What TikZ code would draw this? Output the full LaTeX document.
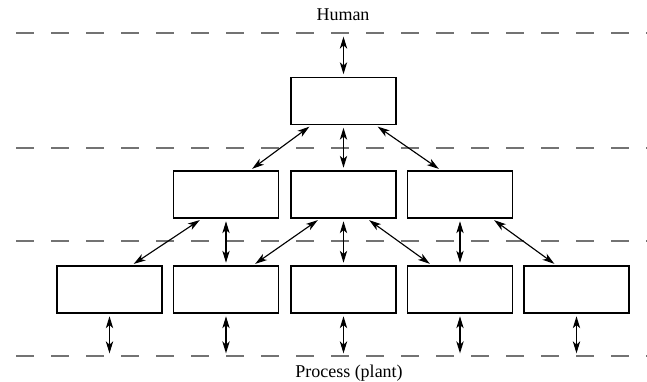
\documentclass[tikz,border=0pt]{standalone}
\usepackage{fontspec}
\setmainfont{Liberation Serif}
\usetikzlibrary{arrows.meta}

\tikzset{
  box/.style={draw, line width=0.9pt, minimum width=78.75pt, minimum height=35.25pt, inner sep=0pt},
  link/.style={line width=0.85pt, {Stealth[length=9pt,width=5.5pt,inset=2.5pt]}-{Stealth[length=9pt,width=5.5pt,inset=2.5pt]}, shorten <=2pt, shorten >=2pt},
  level/.style={draw=black!55, line width=0.8pt, dash pattern=on 13.5pt off 12.75pt},
  tag/.style={font=\fontsize{13.5}{16}\selectfont, inner sep=0pt}
}

\begin{document}
\begin{tikzpicture}[x=0.75pt, y=-0.75pt]
  \useasboundingbox (0,0) rectangle (647,382);

  \draw[level] (16,33) -- (647,33);
  \draw[level] (16,148) -- (647,148);
  \draw[level] (16,241) -- (647,241);
  \draw[level] (16,356) -- (647,356);

  \node[tag] (human) at (343,15) {Human};
  \node[tag] (plant) at (349,373) {Process (plant)};

  \node[box] (top) at (343.5,101) {};

  \node[box] (m1) at (226,194.5) {};
  \node[box] (m2) at (343.5,194.5) {};
  \node[box] (m3) at (460,194.5) {};

  \node[box] (l1) at (109.5,289.5) {};
  \node[box] (l2) at (226,289.5) {};
  \node[box] (l3) at (343.5,289.5) {};
  \node[box] (l4) at (460,289.5) {};
  \node[box] (l5) at (576.5,289.5) {};

  \coordinate (hum) at (343.5,34);
  \coordinate (p1) at (109.5,356);
  \coordinate (p2) at (226,356);
  \coordinate (p3) at (343.5,356);
  \coordinate (p4) at (460,356);
  \coordinate (p5) at (576.5,356);

  \draw[link] (hum) -- (top.north);

  \draw[link] ([shift={(-32,0)}]top.south) -- ([shift={(24,0)}]m1.north);
  \draw[link] (top.south) -- (m2.north);
  \draw[link] ([shift={(32,0)}]top.south) -- ([shift={(-19,0)}]m3.north);

  \draw[link] ([shift={(-24,0)}]m1.south) -- ([shift={(22,0)}]l1.north);
  \draw[link] (m1.south) -- (l2.north);
  \draw[link] ([shift={(-23.5,0)}]m2.south) -- ([shift={(27,0)}]l2.north);
  \draw[link] (m2.south) -- (l3.north);
  \draw[link] ([shift={(23.5,0)}]m2.south) -- ([shift={(-28,0)}]l4.north);
  \draw[link] (m3.south) -- (l4.north);
  \draw[link] ([shift={(32,0)}]m3.south) -- ([shift={(-20,0)}]l5.north);

  \draw[link] (l1.south) -- (p1);
  \draw[link] (l2.south) -- (p2);
  \draw[link] (l3.south) -- (p3);
  \draw[link] (l4.south) -- (p4);
  \draw[link] (l5.south) -- (p5);
\end{tikzpicture}
\end{document}
